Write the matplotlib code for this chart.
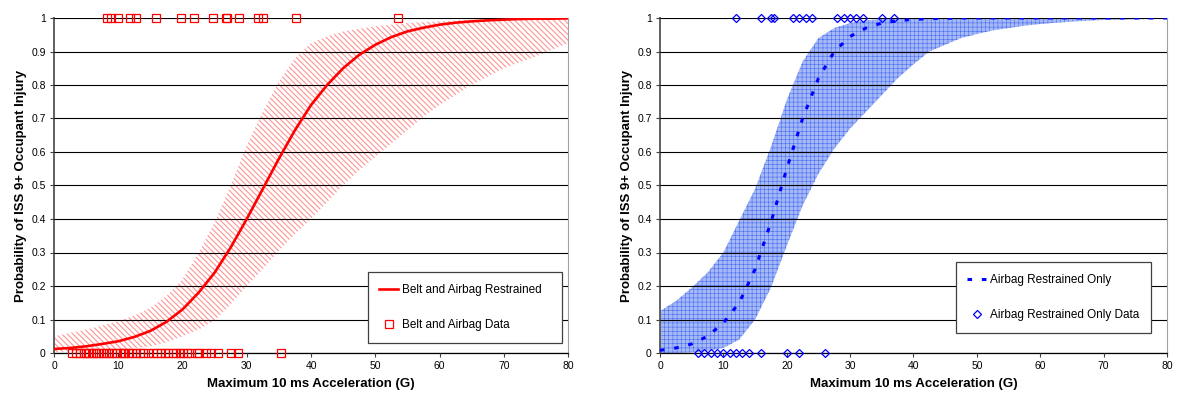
import numpy as np
import matplotlib.pyplot as plt
from matplotlib.ticker import MultipleLocator, FuncFormatter

plt.rcParams['font.family'] = ['Liberation Sans', 'DejaVu Sans']

x_fit = [0, 2.5, 5, 7.5, 10, 12.5, 15, 17.5, 20, 22.5, 25, 27.5, 30, 32.5, 35, 37.5,
         40, 42.5, 45, 47.5, 50, 52.5, 55, 57.5, 60, 62.5, 65, 67.5, 70, 72.5, 75, 77.5, 80]

# belt and airbag restrained (left)
belt_prob = [0.012, 0.015, 0.02, 0.027, 0.035, 0.048, 0.066, 0.093, 0.13, 0.18, 0.24, 0.315,
             0.40, 0.49, 0.58, 0.665, 0.74, 0.80, 0.85, 0.89, 0.92, 0.943, 0.96, 0.971,
             0.98, 0.986, 0.99, 0.993, 0.995, 0.997, 0.998, 0.998, 0.999]
belt_upper = [0.05, 0.06, 0.07, 0.082, 0.095, 0.112, 0.135, 0.17, 0.22, 0.30, 0.39, 0.50,
              0.62, 0.72, 0.81, 0.88, 0.925, 0.945, 0.96, 0.968, 0.975, 0.98, 0.985, 0.988,
              0.99, 0.993, 0.995, 0.996, 0.997, 0.998, 0.998, 0.999, 0.999]
belt_lower = [0.003, 0.004, 0.005, 0.007, 0.01, 0.014, 0.02, 0.032, 0.05, 0.07, 0.097, 0.145,
              0.20, 0.25, 0.305, 0.355, 0.40, 0.45, 0.50, 0.545, 0.585, 0.625, 0.665, 0.705,
              0.74, 0.77, 0.80, 0.825, 0.85, 0.868, 0.885, 0.905, 0.925]
belt_inj = [8.3, 8.9, 9.9, 11.9, 12.8, 15.8, 19.8, 21.8, 24.7, 26.7, 27.0, 28.8, 31.7, 32.6, 37.6, 53.5]
belt_noinj = [2.8, 3.5, 4.0, 4.6, 5.0, 5.5, 6.0, 6.6, 7.05, 7.7, 8.1, 8.6, 9.1, 9.6, 10.2,
              10.7, 11.0, 11.6, 12.1, 12.8, 13.4, 13.9, 14.7, 15.4, 16.0, 16.7, 17.3, 17.8,
              18.5, 19.0, 19.6, 20.1, 20.7, 21.4, 22.2, 22.6, 23.6, 24.5, 25.6, 27.6, 28.7, 35.4]

# airbag restrained only (right)
bag_prob = [0.008, 0.015, 0.027, 0.05, 0.09, 0.15, 0.25, 0.39, 0.55, 0.70, 0.82, 0.90,
            0.945, 0.97, 0.985, 0.992, 0.996, 0.998, 0.999, 1, 1, 1, 1, 1,
            1, 1, 1, 1, 1, 1, 1, 1, 1]
bag_upper = [0.125, 0.155, 0.195, 0.24, 0.30, 0.395, 0.49, 0.615, 0.755, 0.87, 0.94, 0.97,
             0.985, 0.993, 0.997, 0.998, 0.999, 1, 1, 1, 1, 1, 1, 1,
             1, 1, 1, 1, 1, 1, 1, 1, 1]
bag_lower = [0.0, 0.0005, 0.002, 0.006, 0.015, 0.04, 0.10, 0.195, 0.32, 0.44, 0.535, 0.61,
             0.67, 0.72, 0.77, 0.82, 0.862, 0.90, 0.92, 0.94, 0.952, 0.963, 0.97, 0.977,
             0.982, 0.986, 0.989, 0.992, 0.994, 0.995, 0.996, 0.997, 0.998]
bag_inj = [12, 16, 17.5, 18, 21, 22, 23, 24, 28, 29, 30, 31, 32, 35, 37]
bag_noinj = [6, 7, 8, 9, 10, 11, 12, 13, 14, 16, 20, 22, 26]

fig = plt.figure(figsize=(11.8, 3.99), dpi=100)
ax1 = fig.add_axes([54 / 1180, 46 / 399, 514 / 1180, 335 / 399])
ax2 = fig.add_axes([660 / 1180, 46 / 399, 507 / 1180, 335 / 399])


def style_axes(ax):
    ax.set_xlim(0, 80)
    ax.set_ylim(0, 1)
    ax.xaxis.set_major_locator(MultipleLocator(10))
    ax.yaxis.set_major_locator(MultipleLocator(0.1))
    ax.yaxis.set_major_formatter(FuncFormatter(lambda v, p: '%g' % round(v, 1)))
    ax.tick_params(labelsize=7.5, length=3, width=0.8, color='#404040', pad=3)
    ax.set_axisbelow(False)
    ax.yaxis.grid(True, color='black', linewidth=0.8)
    ax.spines['top'].set_visible(False)
    ax.spines['right'].set_color('#a0a0a0')
    ax.spines['left'].set_color('#606060')
    ax.spines['left'].set_linewidth(1.4)
    ax.spines['bottom'].set_color('black')
    ax.spines['bottom'].set_linewidth(0.9)
    ax.set_xlabel('Maximum 10 ms Acceleration (G)', fontsize=9.5, fontweight='bold', labelpad=5)
    ax.set_ylabel('Probability of ISS 9+ Occupant Injury', fontsize=9.5, fontweight='bold', labelpad=3)


style_axes(ax1)
style_axes(ax2)

# left panel
with plt.rc_context({'hatch.linewidth': 0.8}):
    ax1.fill_between(x_fit, belt_lower, belt_upper, facecolor='none', edgecolor='#ff9494',
                     hatch='\\' * 6, linewidth=0, zorder=1)
ax1.plot(x_fit, belt_prob, '-', color='#ff0000', linewidth=1.9, zorder=3,
         label='Belt and Airbag Restrained')
ax1.plot(belt_inj + belt_noinj, [1] * len(belt_inj) + [0] * len(belt_noinj), 's',
         markerfacecolor='none', markeredgecolor='#ff0000', markersize=5.5, markeredgewidth=0.9,
         linestyle='none', clip_on=False, zorder=4, label='Belt and Airbag Data')
leg1 = ax1.legend(loc='lower left', bbox_to_anchor=(0.61, 0.029, 0.379, 0.2), mode='expand',
                  borderaxespad=0, fontsize=8.5, labelspacing=2.0, borderpad=1.0,
                  handlelength=1.6, handletextpad=0.3, numpoints=1, fancybox=False,
                  edgecolor='#404040', framealpha=1)
leg1.get_frame().set_linewidth(0.9)

# right panel
ax2.fill_between(x_fit, bag_lower, bag_upper, facecolor='#a6b9f7', edgecolor='none',
                 linewidth=0, zorder=1)
with plt.rc_context({'hatch.linewidth': 0.4}):
    ax2.fill_between(x_fit, bag_lower, bag_upper, facecolor='none', edgecolor='#4a6cf0',
                     hatch='++++', linewidth=0, zorder=1.1)
ax2.plot(x_fit, bag_prob, color='#0000ff', linewidth=2.2, linestyle=(0, (1.5, 3.2)),
         zorder=3, label='Airbag Restrained Only')
ax2.plot(bag_inj + bag_noinj, [1] * len(bag_inj) + [0] * len(bag_noinj), 'D',
         markerfacecolor='none', markeredgecolor='#0000ff', markersize=4, markeredgewidth=0.9,
         linestyle='none', clip_on=False, zorder=4, label='Airbag Restrained Only Data')
leg2 = ax2.legend(loc='lower left', bbox_to_anchor=(0.583, 0.059, 0.385, 0.2), mode='expand',
                  borderaxespad=0, fontsize=8.5, labelspacing=2.0, borderpad=1.0,
                  handlelength=1.6, handletextpad=0.3, numpoints=1, fancybox=False,
                  edgecolor='#404040', framealpha=1)
leg2.get_frame().set_linewidth(0.9)

fig.savefig('out.png', dpi=100)
